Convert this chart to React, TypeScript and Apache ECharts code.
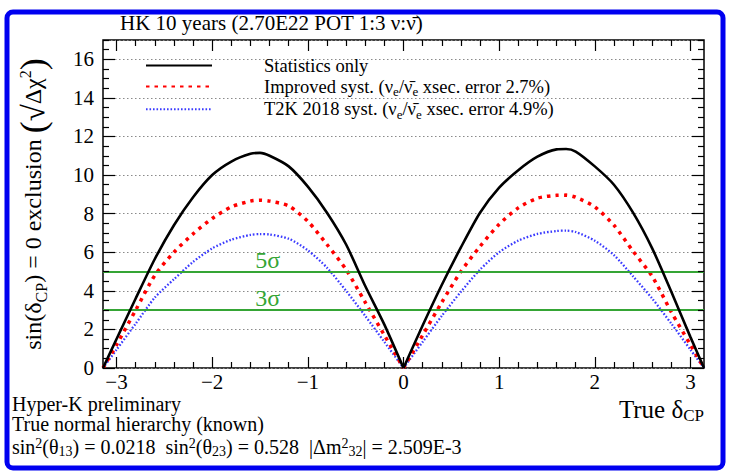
import React, { useEffect, useRef } from "react";
import * as echarts from "echarts";

const PI = Math.PI;

// True delta_CP sample points
const deltaCP = [
  -PI, -3.0, -2.8, -2.6, -2.4, -2.2, -2.0, -1.8, -1.6, -1.5, -1.4, -1.2, -1.0, -0.8, -0.6, -0.4, -0.2,
  0, 0.2, 0.4, 0.6, 0.8, 1.0, 1.2, 1.4, 1.6, 1.7, 1.8, 2.0, 2.2, 2.4, 2.6, 2.8, 3.0, PI,
];
// sqrt(delta chi^2) for sin(dCP)=0 exclusion
const statOnly = [
  0, 1.5, 3.6, 5.65, 7.4, 8.85, 10.0, 10.7, 11.1, 11.15, 11.0, 10.45, 9.4, 8.05, 6.4, 4.25, 2.25,
  0, 2.2, 4.3, 6.25, 8.05, 9.35, 10.25, 10.95, 11.33, 11.35, 11.22, 10.45, 9.5, 8.05, 6.2, 3.95, 1.6, 0,
];
const improvedSyst = [
  0, 1.2, 3.0, 4.8, 6.0, 6.95, 7.75, 8.35, 8.65, 8.7, 8.65, 8.4, 7.6, 6.4, 5.1, 3.4, 1.7,
  0, 1.7, 3.4, 5.0, 6.3, 7.45, 8.3, 8.8, 8.95, 8.96, 8.85, 8.35, 7.4, 6.05, 4.75, 2.9, 1.2, 0,
];
const t2kSyst = [
  0, 0.95, 2.3, 3.65, 4.6, 5.5, 6.2, 6.65, 6.9, 6.94, 6.92, 6.7, 6.1, 5.2, 4.0, 2.7, 1.35,
  0, 1.35, 2.7, 3.95, 5.1, 6.0, 6.6, 6.95, 7.1, 7.12, 7.05, 6.6, 5.85, 4.75, 3.6, 2.3, 0.95, 0,
];

const seriesNames = [
  "Statistics only",
  "Improved syst. (νe/ν̄e xsec. error 2.7%)",
  "T2K 2018 syst. (νe/ν̄e xsec. error 4.9%)",
];
const legendRich = [
  "{n|Statistics only}",
  "{n|Improved syst. (ν}{sub|e}{n|/ν\u0304}{sub|e}{n| xsec. error 2.7%)}",
  "{n|T2K 2018 syst. (ν}{sub|e}{n|/ν\u0304}{sub|e}{n| xsec. error 4.9%)}",
];
const seriesColors = ["#000000", "#ff0000", "#3a3aff"];

const xMajorTicks = [-3, -2, -1, 0, 1, 2, 3];
const yMajorTicks = [0, 2, 4, 6, 8, 10, 12, 14, 16];
const sigmaLevels = [5, 3];
const sigmaLabels = ["5σ", "3σ"];
const sigmaLabelX = -1.42;

const titleText = "HK 10 years (2.70E22 POT 1:3 ν:ν\u0304)";
const infoLines = [
  "{n|Hyper-K preliminary}",
  "{n|True normal hierarchy (known)}",
  "{n|sin}{sup|2}{n|(θ}{sub|13}{n|) = 0.0218  sin}{sup|2}{n|(θ}{sub|23}{n|) = 0.528  |Δm}{sup|2}{sub|32}{n|| = 2.509E-3}",
];

const SERIF = "'Liberation Serif', 'DejaVu Serif', serif";
const Y_MIN = 0;
const Y_MAX = 17;

function range(a: number, b: number, step: number) {
  const out: number[] = [];
  for (let v = a; v <= b + 1e-9; v += step) out.push(Math.round(v * 100) / 100);
  return out;
}

const xMinorTicks = range(-3.0, 3.0, 0.2).filter((v) => !xMajorTicks.includes(v));
const yMinorTicks = range(0, 17, 0.5).filter((v) => !yMajorTicks.includes(v));

const richBase = (size: number, lh?: number) => ({
  n: { fontSize: size, lineHeight: lh ?? size + 4, fontFamily: SERIF, color: "#000" },
  sub: { fontSize: Math.round(size * 0.68), lineHeight: Math.round(size * 0.72), verticalAlign: "bottom", fontFamily: SERIF, color: "#000" },
  sup: { fontSize: Math.round(size * 0.68), lineHeight: Math.round(size * 0.72), verticalAlign: "top", fontFamily: SERIF, color: "#000" },
  p: { fontSize: Math.round(size * 1.5), lineHeight: size + 8, fontFamily: SERIF, color: "#000" },
  r: { fontSize: Math.round(size * 1.3), lineHeight: size + 8, fontFamily: SERIF, color: "#000" },
});

export default function App() {
  const ref = useRef<HTMLDivElement>(null);
  useEffect(() => {
    document.body.style.margin = "0";
    if (!ref.current) return;
    const chart = echarts.init(ref.current, undefined, { renderer: "svg" });

    const GRID = { left: 103, top: 40, right: 26, bottom: 108 };
    const plotW = 730 - GRID.left - GRID.right;
    const plotH = 476 - GRID.top - GRID.bottom;
    const pxToX = (px: number) => (px * 2 * PI) / plotW;
    const pxToY = (px: number) => (px * (Y_MAX - Y_MIN)) / plotH;

    // tick marks as markLine segments in data coordinates
    const tickSegs: any[] = [];
    const xTick = (v: number, len: number) => {
      tickSegs.push([{ coord: [v, Y_MIN] }, { coord: [v, Y_MIN + pxToY(len)] }]);
      tickSegs.push([{ coord: [v, Y_MAX] }, { coord: [v, Y_MAX - pxToY(len)] }]);
    };
    const yTick = (v: number, len: number) => {
      tickSegs.push([{ coord: [-PI, v] }, { coord: [-PI + pxToX(len), v] }]);
      tickSegs.push([{ coord: [PI, v] }, { coord: [PI - pxToX(len), v] }]);
    };
    xMajorTicks.forEach((v) => xTick(v, 11));
    xMinorTicks.forEach((v) => xTick(v, 6));
    yMajorTicks.forEach((v) => yTick(v, 12));
    yMinorTicks.forEach((v) => yTick(v, 6));

    const half = deltaCP.indexOf(0);
    const seriesData = [statOnly, improvedSyst, t2kSyst];
    const lineStyles = [
      { color: seriesColors[0], width: 2.6, type: "solid" },
      { color: seriesColors[1], width: 3.5, type: [3.5, 5] },
      { color: seriesColors[2], width: 2.3, type: [1.6, 1.9] },
    ];

    const series: any[] = [];
    seriesData.forEach((vals, si) => {
      const pts = deltaCP.map((d, i) => [d, vals[i]]);
      [pts.slice(0, half + 1), pts.slice(half)].forEach((part, hi) => {
        series.push({
          name: seriesNames[si],
          type: "line",
          symbol: "none",
          smooth: 0.25,
          data: part,
          lineStyle: lineStyles[si],
          itemStyle: { color: seriesColors[si] },
          z: 5 - si,
          ...(si === 0 && hi === 0
            ? {
                markLine: {
                  silent: true,
                  symbol: "none",
                  label: { show: false },
                  lineStyle: { color: "#35a535", width: 2, type: "solid" },
                  data: sigmaLevels.map((s) => ({ yAxis: s })),
                },
              }
            : {}),
        });
      });
    });
    series.push({
      name: "axis ticks",
      type: "line",
      symbol: "none",
      data: [[-PI, Y_MIN]],
      lineStyle: { opacity: 0 },
      z: 9,
      markLine: {
        silent: true,
        symbol: ["none", "none"],
        label: { show: false },
        emphasis: { disabled: true },
        lineStyle: { color: "#000", width: 1.2, type: "solid", opacity: 1 },
        data: tickSegs,
      },
    });

    const option: any = {
      animation: false,
      backgroundColor: "#fff",
      title: {
        text: titleText,
        left: 115,
        top: 7,
        textStyle: { fontSize: 21, fontWeight: "normal", fontFamily: SERIF, color: "#000" },
      },
      grid: {
        ...GRID,
        show: true,
        borderColor: "#000",
        borderWidth: 1.5,
        backgroundColor: "transparent",
      },
      legend: {
        orient: "vertical",
        left: 140,
        top: 51,
        itemWidth: 66,
        itemHeight: 14,
        itemGap: 2,
        data: seriesNames,
        itemStyle: { opacity: 0 },
        formatter: (name: string) => legendRich[seriesNames.indexOf(name)],
        textStyle: {
          fontSize: 18.5,
          fontFamily: SERIF,
          color: "#000",
          padding: [0, 0, 0, 47],
          rich: richBase(18.5),
        },
      },
      xAxis: {
        type: "value",
        min: -PI,
        max: PI,
        position: "bottom",
        axisLine: { show: false, onZero: false },
        splitLine: { show: false },
        axisTick: { show: false },
        axisLabel: {
          show: true,
          customValues: xMajorTicks,
          margin: 5,
          fontSize: 21,
          lineHeight: 18,
          fontFamily: SERIF,
          color: "#000",
          formatter: (v: number) => String(v).replace("-", "\u2212"),
        },
        name: "{n|True δ}{sub|CP}",
        nameLocation: "end",
        nameGap: 0,
        nameTextStyle: {
          align: "right",
          verticalAlign: "top",
          padding: [27, 0, 0, 0],
          rich: richBase(25),
        },
      },
      yAxis: {
        type: "value",
        min: Y_MIN,
        max: Y_MAX,
        interval: 2,
        position: "left",
        axisLine: { show: false, onZero: false },
        splitLine: { show: true, lineStyle: { color: "#8a8a8a", width: 1.2, type: [1.5, 2.5] } },
        axisTick: { show: false },
        axisLabel: { show: true, customValues: yMajorTicks, margin: 9, fontSize: 21, fontFamily: SERIF, color: "#000" },
        name: "{n|sin(δ}{sub|CP}{n|) = 0 exclusion }{p|(}{r|√}{n|Δχ}{sup|2}{p|)}",
        nameLocation: "middle",
        nameRotate: 90,
        nameGap: 54,
        nameTextStyle: { rich: richBase(24) },
      },
      series,
    };
    chart.setOption(option);

    const toPx = (x: number, y: number) =>
      chart.convertToPixel({ xAxisIndex: 0, yAxisIndex: 0 }, [x, y]) as number[];

    const sigmaTexts = sigmaLevels.map((s, i) => {
      const p = toPx(sigmaLabelX, s);
      return {
        type: "text",
        x: p[0],
        y: p[1],
        style: {
          text: sigmaLabels[i],
          fill: "#35a535",
          fontSize: 24,
          fontFamily: SERIF,
          align: "center",
          verticalAlign: "bottom",
        },
        z: 10,
      };
    });

    const infoY = [395, 415, 436];
    const infoLH = [18, 18, 22];

    chart.setOption({
      graphic: [
        {
          type: "rect",
          shape: { x: 7, y: 12, width: 716, height: 456, r: 6 },
          style: { fill: "none", stroke: "#0000f0", lineWidth: 5 },
          silent: true,
        },
        ...infoLines.map((t, i) => ({
          type: "text",
          x: 12,
          y: infoY[i],
          style: { text: t, rich: richBase(20, infoLH[i]), fontFamily: SERIF, fontSize: 20 },
        })),
        ...sigmaTexts,
      ],
    });

    return () => chart.dispose();
  }, []);
  return <div ref={ref} style={{ width: 730, height: 476 }} />;
}
